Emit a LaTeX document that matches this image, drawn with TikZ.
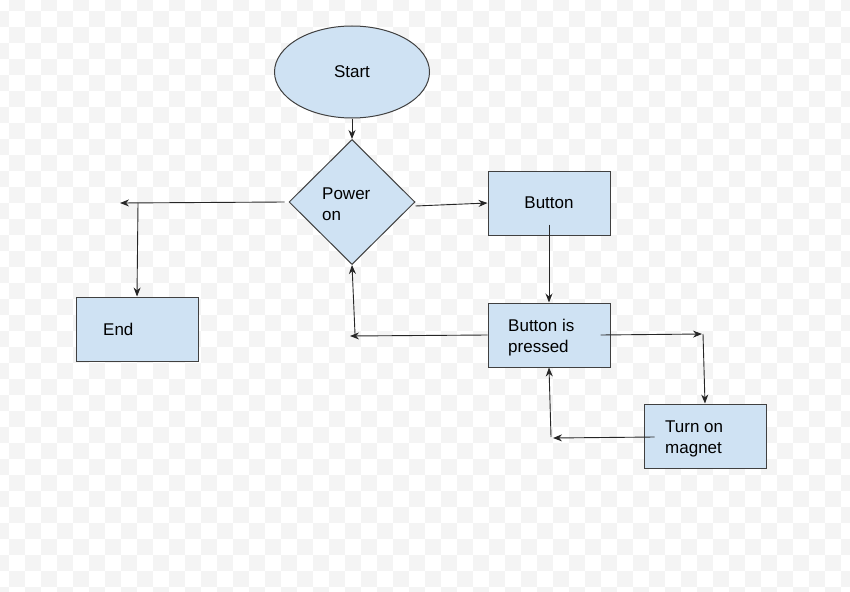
\documentclass[tikz,border=0pt]{standalone}
\usepackage{fontspec}
\setmainfont{Liberation Sans}
\usetikzlibrary{shapes.geometric,arrows.meta,calc}
\definecolor{boxfill}{HTML}{CFE2F3}
\definecolor{boxline}{HTML}{404040}
\definecolor{checker}{HTML}{F4F4F4}
\begin{document}
\begin{tikzpicture}[x=1pt,y=-1pt,
  shp/.style={draw=boxline, fill=boxfill, line width=1pt, inner sep=0pt, font=\fontsize{17}{21}\selectfont},
  box/.style={shp, minimum width=122pt, minimum height=64pt},
  lbl/.style={font=\fontsize{17}{21}\selectfont, align=left, anchor=west, inner sep=0pt},
  conn/.style={draw=black!85, line width=0.9pt, -{Stealth[length=9pt,width=7pt]}}]
\useasboundingbox (0,0) rectangle (850,591);
% faint checker background
\begin{scope}
\clip (0,0) rectangle (850,591);
\foreach \r in {0,...,37}{
  \foreach \c in {0,...,53}{
    \pgfmathtruncatemacro\m{mod(\r+\c,2)}
    \ifnum\m=1
      \fill[checker] (-7+16*\c,-5+16*\r) rectangle ++(16,16);
    \fi
  }
}
\end{scope}
% nodes
\node[shp, ellipse, minimum width=155pt, minimum height=92pt] (start) at (352,72) {Start};
\node[shp, diamond, minimum width=126pt, minimum height=125pt] (power) at (352,202) {};
\node[lbl] (powerlbl) at (322,204) {Power\\on};
\node[box] (button) at (549,203) {Button};
\node[box] (endbox) at (137,329) {};
\node[lbl] (endlbl) at (103,329) {End};
\node[box] (pressed) at (549,335) {};
\node[lbl] (pressedlbl) at (508,338) {Button is\\pressed};
\node[box] (magnet) at (705,436) {};
\node[lbl] (magnetlbl) at (665,439) {Turn on\\magnet};
% free ends
\coordinate (pl) at (120,203);
\coordinate (pj) at (138,203);
\coordinate (ql) at (350,336);
\coordinate (qu) at (355,334);
\coordinate (qr) at (702,334);
\coordinate (qd) at (703,334);
\coordinate (ml) at (553,438);
\coordinate (mu) at (551,437);
% connectors
\draw[conn] (start.south) -- (power.north);
\draw[conn] ($(power.west)+(-4,0)$) -- (pl);
\draw[conn] (pj) -- (endbox.north);
\draw[conn] ($(power.east)+(0,4)$) -- (button.west);
\draw[conn] ($(button.south)+(0,-11)$) -- (pressed.north);
\draw[conn] (pressed.west) -- (ql);
\draw[conn] (qu) -- (power.south);
\draw[conn] ($(pressed.east)+(-10,0)$) -- (qr);
\draw[conn] (qd) -- (magnet.north);
\draw[conn] ($(magnet.west)+(11,1)$) -- (ml);
\draw[conn] (mu) -- (pressed.south);
\end{tikzpicture}
\end{document}
